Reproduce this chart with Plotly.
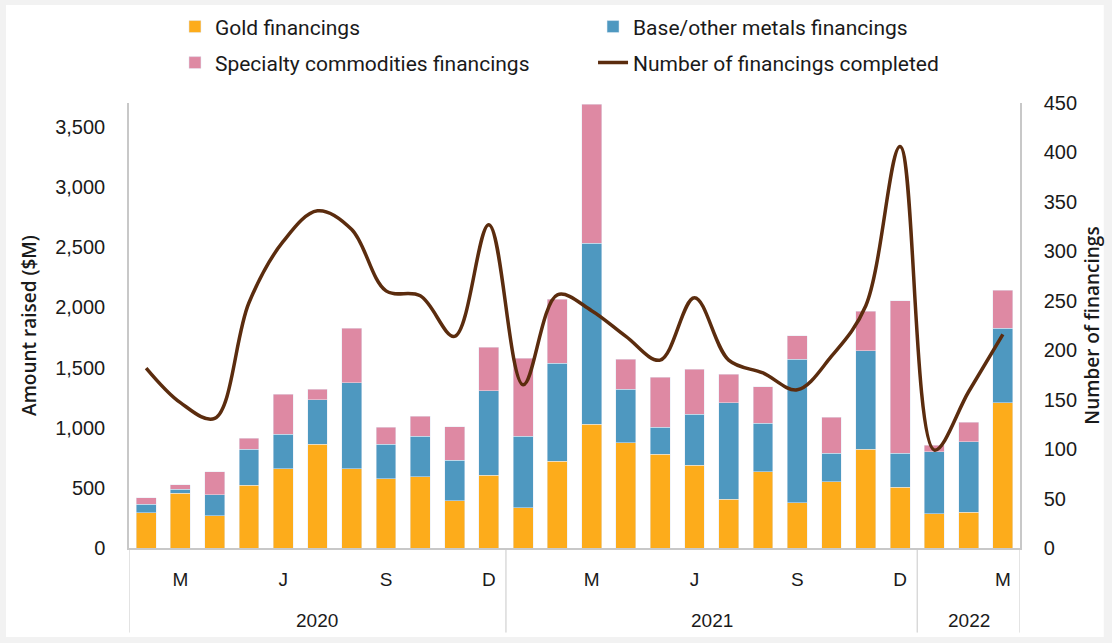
import plotly.graph_objects as go

months = ["F", "M", "A", "M", "J", "J", "A", "S", "O", "N", "D",
          "J", "F", "M", "A", "M", "J", "J", "A", "S", "O", "N", "D",
          "J", "F", "M"]
years = ["2020"] * 11 + ["2021"] * 12 + ["2022"] * 3
shown_months = {1: "M", 4: "J", 7: "S", 10: "D", 13: "M", 16: "J", 19: "S", 22: "D", 25: "M"}

gold = [293, 455, 269, 521, 659, 864, 659, 576, 593, 393, 607,
        335, 723, 1031, 875, 781, 690, 405, 632, 377, 549, 823, 504,
        285, 299, 1208]
base = [70, 33, 172, 299, 286, 369, 713, 286, 335, 338, 701,
        596, 812, 1502, 447, 222, 424, 803, 407, 1191, 238, 817, 283,
        516, 585, 618]
specialty = [53, 36, 193, 92, 335, 86, 454, 141, 169, 277, 363,
             646, 535, 1158, 249, 416, 374, 236, 302, 197, 299, 327, 1269,
             55, 163, 319]
count = [182, 147, 131, 248, 310, 341, 322, 260, 255, 214, 327,
         165, 256, 240, 214, 190, 253, 190, 177, 160, 194, 245, 406,
         99, 158, 216]

x = list(range(len(months)))

GOLD = "#FDAC1B"
BLUE = "#4E98C0"
PINK = "#DE89A3"
BROWN = "#5B2C0E"
AXIS = "#C8C8C8"
TXT = "#1a1a1a"
TICKFONT = "Liberation Sans, Arial"
LEGFONT = "Roboto, Arial"
TITLEFONT = "Open Sans, Arial"

fig = go.Figure()
fig.add_trace(go.Bar(x=x, y=gold, name="Gold financings", marker_color=GOLD,
                     width=0.58, legend="legend"))
fig.add_trace(go.Bar(x=x, y=base, name="Base/other metals financings", marker_color=BLUE,
                     width=0.58, legend="legend2"))
fig.add_trace(go.Bar(x=x, y=specialty, name="Specialty commodities financings",
                     marker_color=PINK, width=0.58, legend="legend3"))
fig.add_trace(go.Scatter(x=x, y=count, name="Number of financings completed", yaxis="y2",
                         mode="lines", line=dict(color=BROWN, width=3.5, shape="spline", smoothing=1),
                         legend="legend4"))

# year group labels and separators
groups = []
for i, yv in enumerate(years):
    if not groups or groups[-1][0] != yv:
        groups.append([yv, i, i])
    else:
        groups[-1][2] = i
for name, s, e in groups:
    fig.add_annotation(x=(s + e) / 2, y=-0.162, xref="x", yref="paper", text=name,
                       showarrow=False, yanchor="middle",
                       font=dict(family=TICKFONT, size=19, color=TXT))
bounds = [groups[0][1] - 0.5] + [g[2] + 0.5 for g in groups]
for b in bounds:
    fig.add_shape(type="line", x0=b, x1=b, xref="x", y0=0, y1=-0.19, yref="paper",
                  line=dict(color=AXIS, width=1))

# white card over grey page
fig.add_shape(type="rect", xref="paper", yref="paper", x0=-0.138, x1=1.094, y0=-0.2, y1=1.22,
              fillcolor="white", line=dict(width=0), layer="below")

def leg(xp, yp):
    return dict(orientation="h", x=xp, y=yp, xanchor="left", yanchor="middle",
                bgcolor="rgba(0,0,0,0)", traceorder="normal",
                font=dict(family=LEGFONT, size=21, color=TXT))

fig.update_layout(
    width=1112, height=643,
    margin=dict(l=129, r=92, t=103, b=95, autoexpand=False),
    paper_bgcolor="#F2F2F2", plot_bgcolor="white",
    barmode="stack", bargap=0.42,
    font=dict(family=TICKFONT, size=19, color=TXT),
    showlegend=True,
    legend=leg(0.0516, 1.171),
    legend2=leg(0.5208, 1.171),
    legend3=leg(0.0516, 1.09),
    legend4=leg(0.5208, 1.09),
    xaxis=dict(range=[-0.5, len(months) - 0.5], tickvals=list(shown_months.keys()),
               ticktext=list(shown_months.values()), showgrid=False, zeroline=False,
               showline=True, linecolor=AXIS, linewidth=1.5, ticks="",
               ticklabelstandoff=13, tickfont=dict(family=TICKFONT, size=19, color=TXT)),
    yaxis=dict(range=[0, 3700], tickvals=[0, 500, 1000, 1500, 2000, 2500, 3000, 3500],
               tickformat=",", showgrid=False, zeroline=False, showline=True, linecolor=AXIS,
               linewidth=1.5, ticks="", ticklabelstandoff=18,
               title=dict(text="Amount raised ($M)", standoff=14,
                          font=dict(family=TITLEFONT, size=19, color=TXT, weight=600)),
               tickfont=dict(family=TICKFONT, size=20, color=TXT)),
    yaxis2=dict(range=[0, 450], dtick=50, overlaying="y", side="right", showgrid=False,
                zeroline=False, showline=True, linecolor=AXIS, linewidth=1.5, ticks="",
                ticklabelstandoff=18,
                title=dict(text="Number of financings", standoff=10,
                           font=dict(family=TITLEFONT, size=19, color=TXT, weight=600)),
                tickfont=dict(family=TICKFONT, size=20, color=TXT)),
    hovermode=False,
)

fig.write_html("out.html", config={"displayModeBar": False},
               post_script="document.body.style.margin='0';document.body.style.background='#F2F2F2';")
